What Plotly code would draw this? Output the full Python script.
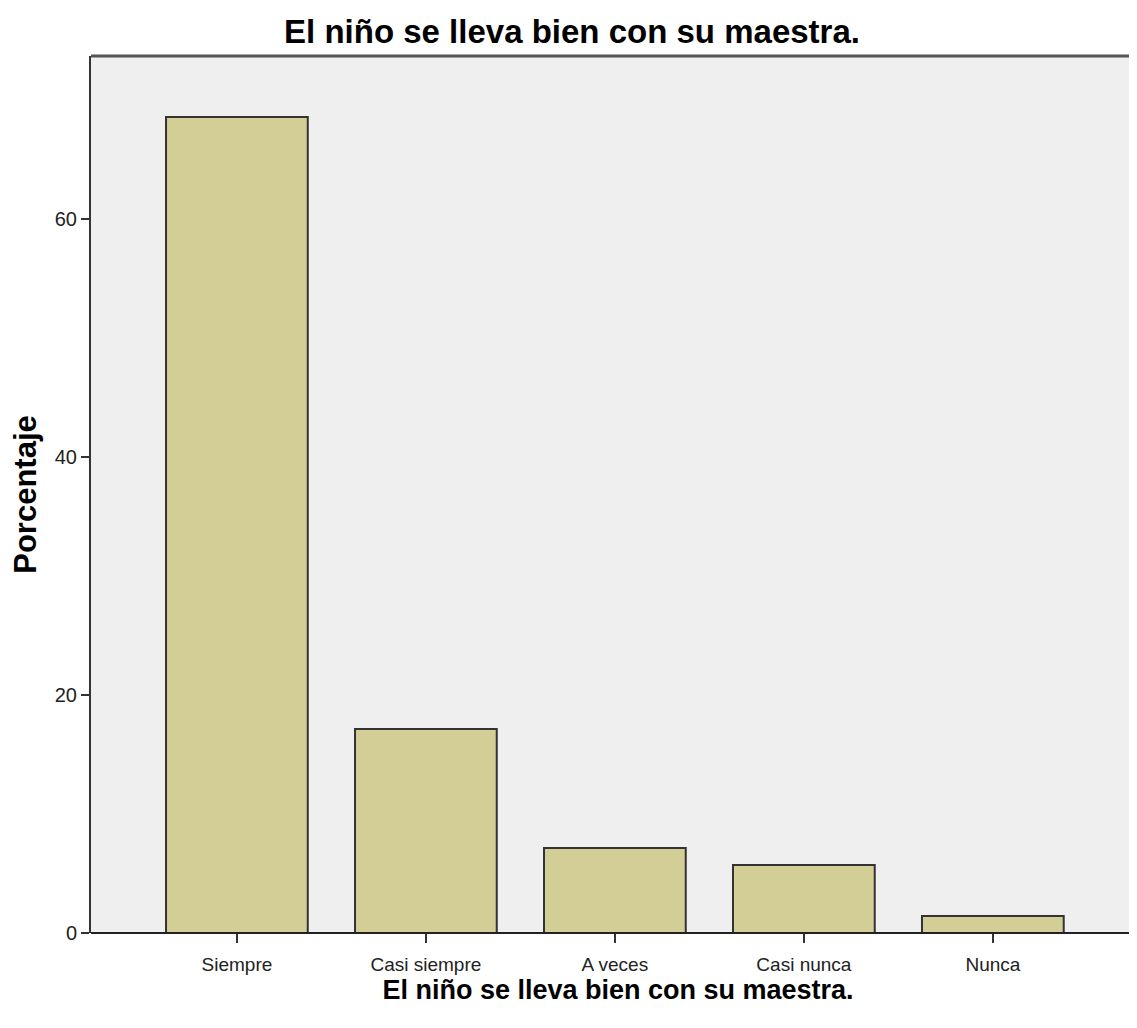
import plotly.graph_objects as go

categories = ["Siempre", "Casi siempre", "A veces", "Casi nunca", "Nunca"]
percentages = [68.57, 17.14, 7.14, 5.71, 1.43]
y_ticks = [0, 20, 40, 60]
title_text = "El niño se lleva bien con su maestra."
y_title = "Porcentaje"

W, H = 1137, 1012  # page has an 8px body margin; plot runs off the right edge

fig = go.Figure()
fig.add_trace(go.Bar(
    x=categories,
    y=percentages,
    width=0.75,
    marker=dict(color="#D3CD96", line=dict(color="#333333", width=2)),
    hoverinfo="x+y",
))

sans = "Liberation Sans, Arial, sans-serif"

fig.update_layout(
    width=W,
    height=H,
    margin=dict(l=83, r=0, t=48, b=87),
    paper_bgcolor="white",
    plot_bgcolor="#EFEFEF",
    showlegend=False,
    title=dict(
        text=title_text,
        x=564 / W, xref="container", xanchor="center",
        y=1 - 23 / H, yref="container", yanchor="middle",
        font=dict(family=sans, size=33, color="black", weight="bold"),
    ),
    xaxis=dict(
        range=[-0.772, 4.805],
        showgrid=False,
        zeroline=False,
        showline=False,
        ticks="outside",
        ticklen=9,
        tickwidth=2,
        tickcolor="#333333",
        ticklabelstandoff=5,
        tickfont=dict(family=sans, size=19, color="#222222"),
        title=dict(
            text=title_text,
            font=dict(family=sans, size=27, color="black", weight="bold"),
            standoff=6,
        ),
    ),
    yaxis=dict(
        range=[0, 73.7],
        tickvals=y_ticks,
        showgrid=False,
        zeroline=False,
        showline=True,
        linecolor="#333333",
        linewidth=2,
        ticks="outside",
        ticklen=8,
        tickwidth=2,
        tickcolor="#333333",
        tickfont=dict(family=sans, size=20, color="#222222"),
        title=dict(
            text=y_title,
            font=dict(family=sans, size=31, color="black", weight="bold"),
            standoff=18,
        ),
    ),
    shapes=[
        dict(type="line", xref="paper", yref="paper", x0=0, x1=1, y0=1, y1=1,
             line=dict(color="#555555", width=3)),
        dict(type="line", xref="paper", yref="paper", x0=0, x1=1, y0=0, y1=0,
             line=dict(color="#222222", width=2)),
    ],
)

fig.write_html("out.html")
